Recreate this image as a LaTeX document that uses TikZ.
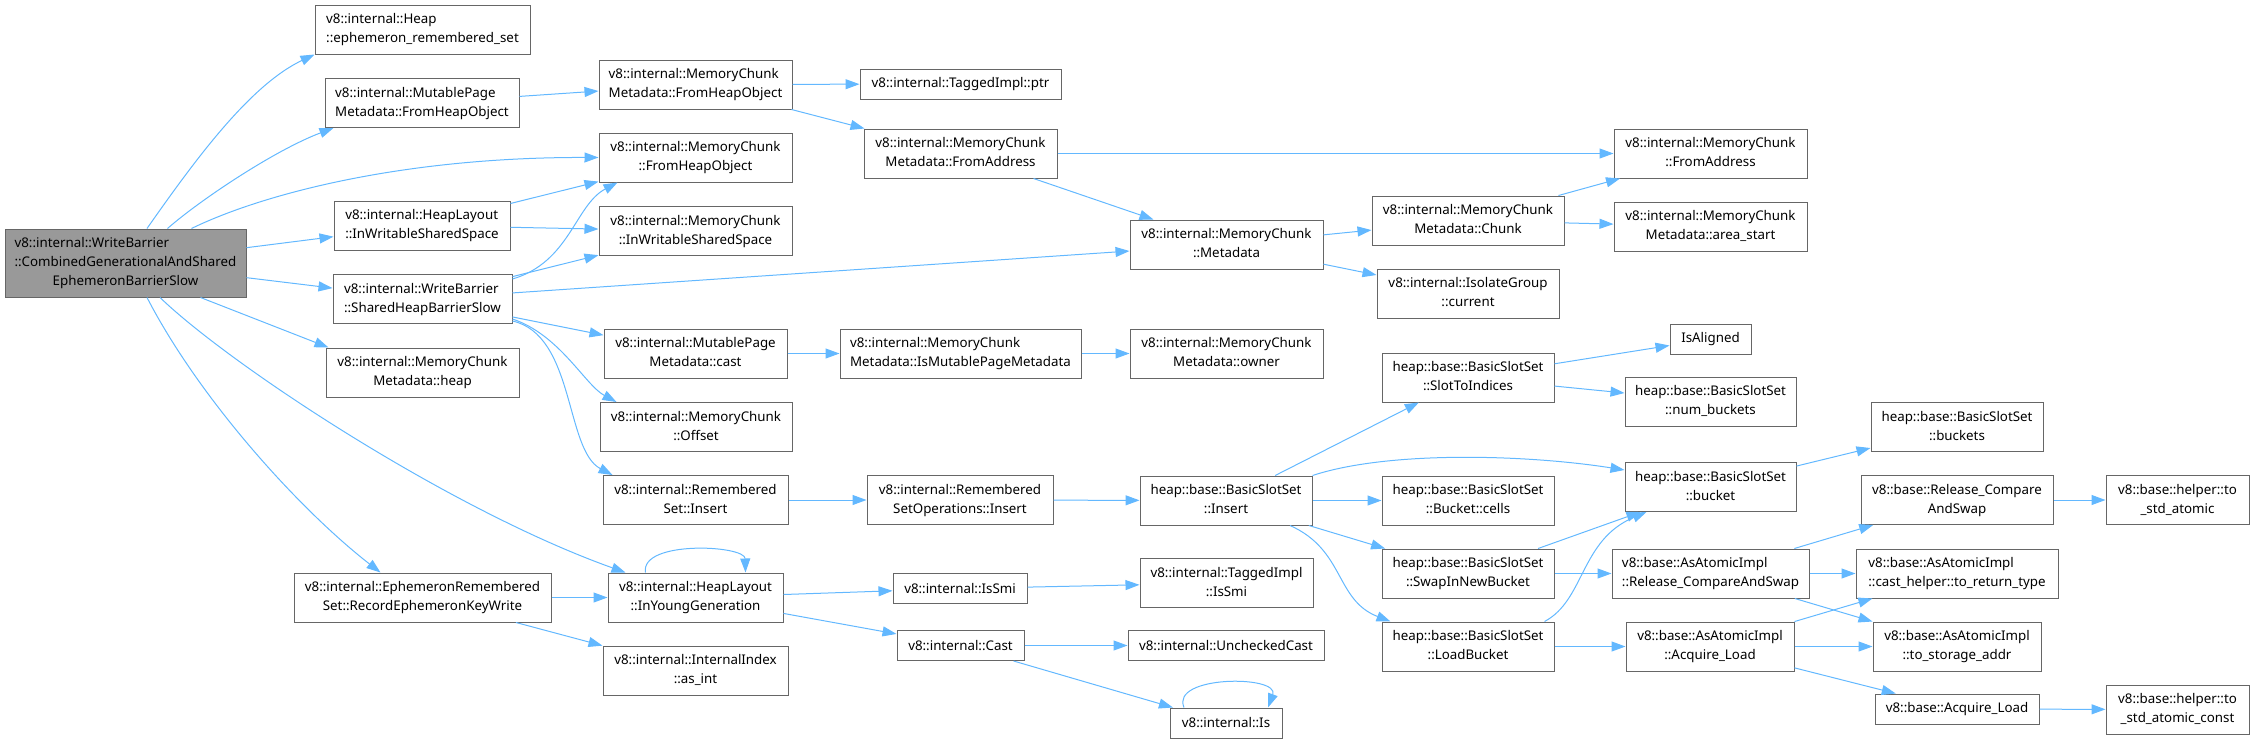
\documentclass[tikz,border=0pt]{standalone}
\usepackage{fontspec}
\setmainfont{Noto Sans}
\usepackage{tikz}
\usetikzlibrary{arrows.meta,calc}
\definecolor{EdgeBlue}{HTML}{63B8FF}
\definecolor{BoxLine}{HTML}{666666}
\definecolor{RootFill}{HTML}{999999}
\newcommand{\fnlabel}[2]{\begin{tabular}{@{}c@{}}\multicolumn{1}{@{}l@{}}{#1}\\#2\end{tabular}}
\tikzset{
  fnbox/.style={draw=BoxLine, line width=0.75pt, fill=white, inner sep=2pt, minimum height=36.75pt, font=\fontsize{10}{14.25}\selectfont},
  rootbox/.style={fnbox, fill=RootFill, minimum height=51pt},
  oneline/.style={minimum height=22.5pt},
  wd/.style={minimum width=#1*0.75pt},
  arrow/.style={-{Triangle[length=10.5pt,width=7.5pt]}, line width=0.75pt, draw=EdgeBlue}
}

\begin{document}
\begin{tikzpicture}[x=0.75pt, y=-0.75pt]
  \useasboundingbox (0,0) rectangle (2255,743);

  \node[rootbox, wd=241] (root) at (125.5,263) {\begin{tabular}{@{}c@{}}\multicolumn{1}{@{}l@{}}{v8::internal::WriteBarrier}\\\multicolumn{1}{@{}l@{}}{::CombinedGenerationalAndShared}\\EphemeronBarrierSlow\end{tabular}};

  \node[fnbox, wd=215] (ephrs) at (422.5,29.5) {\fnlabel{v8::internal::Heap}{::ephemeron\_remembered\_set}};
  \node[fnbox, wd=194] (mpmfho) at (422,103) {\fnlabel{v8::internal::MutablePage}{Metadata::FromHeapObject}};
  \node[fnbox, wd=176] (hlwss) at (422,225.5) {\fnlabel{v8::internal::HeapLayout}{::InWritableSharedSpace}};
  \node[fnbox, wd=179] (shbs) at (422.5,299) {\fnlabel{v8::internal::WriteBarrier}{::SharedHeapBarrierSlow}};
  \node[fnbox, wd=193] (heap) at (422.5,372.5) {\fnlabel{v8::internal::MemoryChunk}{Metadata::heap}};
  \node[fnbox, wd=257] (record) at (422.5,597.5) {\fnlabel{v8::internal::EphemeronRemembered}{Set::RecordEphemeronKeyWrite}};

  \node[fnbox, wd=193] (mcmfho) at (695.5,84.5) {\fnlabel{v8::internal::MemoryChunk}{Metadata::FromHeapObject}};
  \node[fnbox, wd=193] (mcfho) at (695.5,157.5) {\fnlabel{v8::internal::MemoryChunk}{::FromHeapObject}};
  \node[fnbox, wd=193] (mcwss) at (695.5,231) {\fnlabel{v8::internal::MemoryChunk}{::InWritableSharedSpace}};
  \node[fnbox, wd=183] (mpmcast) at (695.5,353.5) {\fnlabel{v8::internal::MutablePage}{Metadata::cast}};
  \node[fnbox, wd=192] (offset) at (696,427) {\fnlabel{v8::internal::MemoryChunk}{::Offset}};
  \node[fnbox, wd=185] (rsinsert) at (695.5,500) {\fnlabel{v8::internal::Remembered}{Set::Insert}};
  \node[fnbox, wd=175] (young) at (695.5,597.5) {\fnlabel{v8::internal::HeapLayout}{::InYoungGeneration}};
  \node[fnbox, wd=185] (asint) at (695.5,670.5) {\fnlabel{v8::internal::InternalIndex}{::as\_int}};

  \node[fnbox, oneline, wd=201] (ptr) at (960.5,84) {v8::internal::TaggedImpl::ptr};
  \node[fnbox, wd=193] (mcmfa) at (960.5,153.5) {\fnlabel{v8::internal::MemoryChunk}{Metadata::FromAddress}};
  \node[fnbox, wd=241] (ismut) at (960.5,353.5) {\fnlabel{v8::internal::MemoryChunk}{Metadata::IsMutablePageMetadata}};
  \node[fnbox, wd=186] (rsoinsert) at (960,500) {\fnlabel{v8::internal::Remembered}{SetOperations::Insert}};
  \node[fnbox, oneline, wd=134] (issmi) at (960,588.5) {v8::internal::IsSmi};
  \node[fnbox, oneline, wd=127] (cast) at (960.5,645.5) {v8::internal::Cast};

  \node[fnbox, wd=193] (metadata) at (1226.5,244.5) {\fnlabel{v8::internal::MemoryChunk}{::Metadata}};
  \node[fnbox, wd=193] (owner) at (1226.5,353.5) {\fnlabel{v8::internal::MemoryChunk}{Metadata::owner}};
  \node[fnbox, wd=172] (bssinsert) at (1226,500.5) {\fnlabel{heap::base::BasicSlotSet}{::Insert}};
  \node[fnbox, wd=173] (tissmi) at (1226.5,583) {\fnlabel{v8::internal::TaggedImpl}{::IsSmi}};
  \node[fnbox, oneline, wd=196] (unchecked) at (1226,645.5) {v8::internal::UncheckedCast};
  \node[fnbox, oneline, wd=112] (is) at (1226,723) {v8::internal::Is};

  \node[fnbox, wd=192] (chunk) at (1468,220.5) {\fnlabel{v8::internal::MemoryChunk}{Metadata::Chunk}};
  \node[fnbox, wd=182] (current) at (1468,293.5) {\fnlabel{v8::internal::IsolateGroup}{::current}};
  \node[fnbox, wd=172] (slottoidx) at (1468,377.5) {\fnlabel{heap::base::BasicSlotSet}{::SlotToIndices}};
  \node[fnbox, wd=172] (cells) at (1468,500.5) {\fnlabel{heap::base::BasicSlotSet}{::Bucket::cells}};
  \node[fnbox, wd=172] (swap) at (1468,573.5) {\fnlabel{heap::base::BasicSlotSet}{::SwapInNewBucket}};
  \node[fnbox, wd=172] (loadbucket) at (1468,646.5) {\fnlabel{heap::base::BasicSlotSet}{::LoadBucket}};

  \node[fnbox, wd=193] (mcfa) at (1710.5,153.5) {\fnlabel{v8::internal::MemoryChunk}{::FromAddress}};
  \node[fnbox, wd=193] (areastart) at (1710.5,226.5) {\fnlabel{v8::internal::MemoryChunk}{Metadata::area\_start}};
  \node[fnbox, oneline, wd=81] (isaligned) at (1710.5,339) {IsAligned};
  \node[fnbox, wd=171] (numbuckets) at (1710.5,401.5) {\fnlabel{heap::base::BasicSlotSet}{::num\_buckets}};
  \node[fnbox, wd=171] (bucket) at (1710.5,487) {\fnlabel{heap::base::BasicSlotSet}{::bucket}};
  \node[fnbox, wd=197] (aarcas) at (1710.5,573.5) {\fnlabel{v8::base::AsAtomicImpl}{::Release\_CompareAndSwap}};
  \node[fnbox, wd=168] (aaload) at (1710,646.5) {\fnlabel{v8::base::AsAtomicImpl}{::Acquire\_Load}};

  \node[fnbox, wd=172] (buckets) at (1957,427) {\fnlabel{heap::base::BasicSlotSet}{::buckets}};
  \node[fnbox, wd=192] (rcas) at (1957,500) {\fnlabel{v8::base::Release\_Compare}{AndSwap}};
  \node[fnbox, wd=202] (toret) at (1957,573.5) {\fnlabel{v8::base::AsAtomicImpl}{::cast\_helper::to\_return\_type}};
  \node[fnbox, wd=168] (tostor) at (1957,646.5) {\fnlabel{v8::base::AsAtomicImpl}{::to\_storage\_addr}};
  \node[fnbox, oneline, wd=164] (bload) at (1957,709) {v8::base::Acquire\_Load};

  \node[fnbox, wd=143] (tostd) at (2177.5,500) {\fnlabel{v8::base::helper::to}{\_std\_atomic}};
  \node[fnbox, wd=143] (tostdc) at (2177.5,709.5) {\fnlabel{v8::base::helper::to}{\_std\_atomic\_const}};

  \draw[arrow] ($(root.north)+(21.5,0)$) .. controls (195,160) and (250,85) .. (ephrs.south west);
  \draw[arrow] ($(root.north)+(42,0)$) .. controls (200,200) and (275,150) .. ($(mpmfho.south west)+(9,0)$);
  \draw[arrow] ($(root.north)+(66,0)$) .. controls (260,195) and (400,157) .. (mcfho.west);
  \draw[arrow] (root) -- (hlwss);
  \draw[arrow] (root) -- (shbs);
  \draw[arrow] ($(root.south)+(75,0)$) -- ($(heap.north west)+(3,0)$);
  \draw[arrow] ($(root.south)+(21.5,0)$) .. controls (200,400) and (300,510) .. ($(record.north west)+(87,0)$);
  \draw[arrow] ($(root.south)+(34.5,0)$) .. controls (230,365) and (450,510) .. ($(young.north west)+(18,0)$);

  \draw[arrow] (mpmfho) -- (mcmfho);
  \draw[arrow] (hlwss) -- (mcfho);
  \draw[arrow] (hlwss) -- (mcwss);
  \draw[arrow] ($(shbs.north east)+(0,5)$) .. controls (570,262) and (575,205) .. ($(mcfho.south west)+(19,0)$);
  \draw[arrow] (shbs) -- (mcwss);
  \draw[arrow] (shbs) -- (metadata);
  \draw[arrow] (shbs) -- (mpmcast);
  \draw[arrow] ($(shbs.south east)+(0,-5)$) .. controls (560,335) and (585,385) .. ($(offset.north west)+(17,0)$);
  \draw[arrow] ($(shbs.south east)+(0,-3)$) .. controls (575,335) and (565,450) .. ($(rsinsert.north west)+(10,0)$);
  \draw[arrow] (record) -- (young);
  \draw[arrow] (record) -- (asint);

  \draw[arrow] (mcmfho) -- (ptr);
  \draw[arrow] (mcmfho) -- (mcmfa);
  \draw[arrow] (mcmfa) -- (mcfa);
  \draw[arrow] (mcmfa) -- (metadata);
  \draw[arrow] (mpmcast) -- (ismut);
  \draw[arrow] (ismut) -- (owner);
  \draw[arrow] (rsinsert) -- (rsoinsert);
  \draw[arrow] (rsoinsert) -- (bssinsert);
  \draw[arrow] ($(young.north)+(-50,0)$) .. controls (640,540) and (745,545) .. ($(young.north)+(50,0)$);
  \draw[arrow] (young) -- (issmi);
  \draw[arrow] (young) -- (cast);
  \draw[arrow] (issmi) -- (tissmi);
  \draw[arrow] (cast) -- (unchecked);
  \draw[arrow] (cast) -- (is);
  \draw[arrow] ($(is.north)+(-42,0)$) .. controls (1170,675) and (1280,675) .. ($(is.north)+(42,0)$);

  \draw[arrow] (metadata) -- (chunk);
  \draw[arrow] (metadata) -- (current);
  \draw[arrow] (bssinsert) -- (slottoidx);
  \draw[arrow] (bssinsert.north east) .. controls (1390,450) and (1530,455) .. ($(bucket.west)+(0,-17)$);
  \draw[arrow] (bssinsert) -- (cells);
  \draw[arrow] (bssinsert) -- (swap);
  \draw[arrow] ($(bssinsert.south)+(64,0)$) .. controls (1345,550) and (1335,600) .. ($(loadbucket.north west)+(9,0)$);

  \draw[arrow] (chunk) -- (mcfa);
  \draw[arrow] (chunk) -- (areastart);
  \draw[arrow] (slottoidx) -- (isaligned);
  \draw[arrow] (slottoidx) -- (numbuckets);
  \draw[arrow] (swap) -- (bucket);
  \draw[arrow] (swap) -- (aarcas);
  \draw[arrow] ($(loadbucket.north east)+(-10,0)$) .. controls (1585,600) and (1580,540) .. ($(bucket.south west)+(22,0)$);
  \draw[arrow] (loadbucket) -- (aaload);

  \draw[arrow] (bucket) -- (buckets);
  \draw[arrow] (aarcas) -- (rcas);
  \draw[arrow] (aarcas) -- (toret);
  \draw[arrow] (aarcas) -- (tostor);
  \draw[arrow] (aaload) -- (toret);
  \draw[arrow] (aaload) -- (tostor);
  \draw[arrow] (aaload) -- (bload);
  \draw[arrow] (rcas) -- (tostd);
  \draw[arrow] (bload) -- (tostdc);
\end{tikzpicture}
\end{document}
